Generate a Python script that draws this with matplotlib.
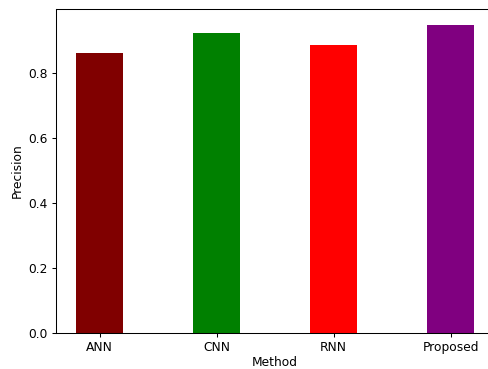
import matplotlib
matplotlib.use("Agg")
import matplotlib.pyplot as plt

methods = ["ANN", "CNN", "RNN", "Proposed"]
precision = [0.862, 0.923, 0.888, 0.950]
bar_colors = ["maroon", "green", "red", "purple"]

plt.rcParams["font.size"] = 8.8
plt.rcParams["axes.linewidth"] = 0.75
plt.rcParams["xtick.major.width"] = 0.75
plt.rcParams["ytick.major.width"] = 0.75
plt.rcParams["xtick.major.size"] = 3.1
plt.rcParams["ytick.major.size"] = 3.1
plt.rcParams["xtick.major.pad"] = 2.6
plt.rcParams["ytick.major.pad"] = 3.0

fig = plt.figure(figsize=(4.88, 3.69), dpi=100)
ax = fig.add_axes([56.3 / 488, 1 - 332.7 / 369, 437.6 / 488, (332.7 - 9.3) / 369])

ax.bar(methods, precision, color=bar_colors, width=0.4)
ax.set_xlabel("Method", labelpad=2.0)
ax.set_ylabel("Precision", labelpad=3.0)
ax.spines["right"].set_visible(False)

fig.savefig("out.png", dpi=100)
